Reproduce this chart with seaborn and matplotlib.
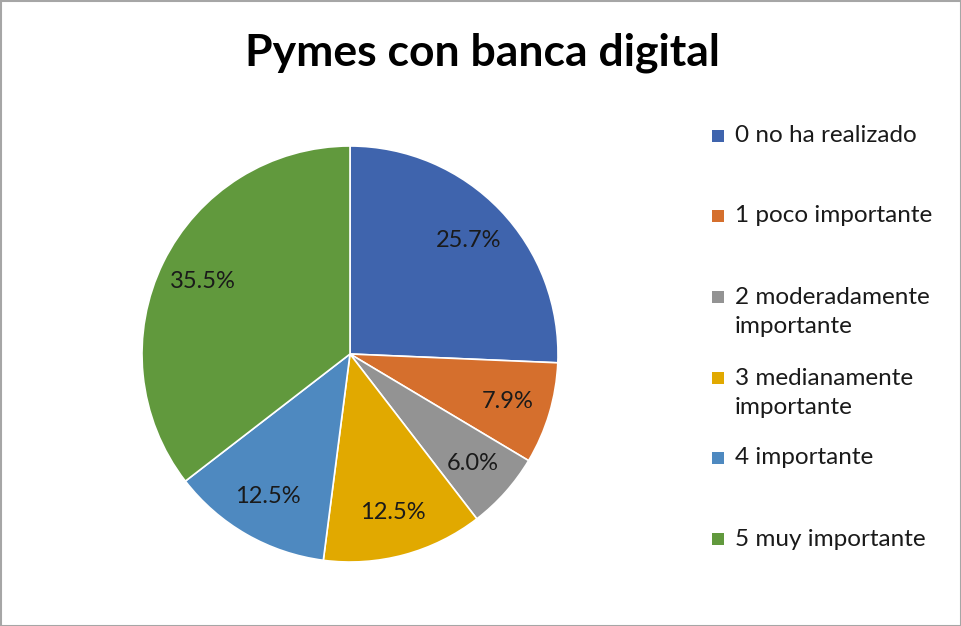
import matplotlib
matplotlib.use("Agg")
import matplotlib.pyplot as plt
from matplotlib.patches import Rectangle
import seaborn as sns

categories = ["0 no ha realizado", "1 poco importante", "2 moderadamente\nimportante",
              "3 medianamente\nimportante", "4 importante", "5 muy importante"]
values = [25.7, 7.9, 6.0, 12.5, 12.5, 35.5]
colors = ["#3F64AD", "#D56F2D", "#939393", "#E1A900", "#4E89C0", "#61993D"]
title = "Pymes con banca digital"

sns.set_theme(style="white")
plt.rcParams['font.family'] = ['Lato', 'DejaVu Sans']

fig = plt.figure(figsize=(9.62, 6.26), dpi=100)
W, H = 962, 626
cx, cy, r = 350, 354, 208
ax = fig.add_axes([(cx - r) / W, (H - cy - r) / H, 2 * r / W, 2 * r / H])
palette = sns.color_palette(colors)
wedges, texts, autotexts = ax.pie(
    values, colors=palette, startangle=90, counterclock=False,
    autopct=lambda p: f"{p:.1f}%", pctdistance=0.79, radius=1,
    wedgeprops=dict(edgecolor="white", linewidth=1.2),
    textprops=dict(fontsize=17, color="#1a1a1a"))
ax.set_xlim(-1, 1)
ax.set_ylim(-1, 1)
ax.set_aspect("equal")
ax.axis("off")

fig.text(482 / W, 1 - 53 / H, title, ha="center", va="center",
         fontsize=32, fontweight="bold", color="black")

# legend
legend_y = [136, 216, 312, 393, 458, 539]
first_line_y = [136, 216, 297, 378, 458, 539]
for lab, col, yc, yf in zip(categories, colors, legend_y, first_line_y):
    fig.patches.append(Rectangle(((712) / W, 1 - (yf + 6) / H), 12 / W, 12 / H,
                                 transform=fig.transFigure, facecolor=col,
                                 edgecolor="none"))
    fig.text(735 / W, 1 - yc / H, lab, ha="left", va="center", fontsize=17.5,
             color="#1a1a1a", linespacing=1.42)

fig.patches.append(Rectangle((0.5 / W, 0.5 / H), (W - 1.5) / W, (H - 1.5) / H,
                             transform=fig.transFigure, facecolor="none",
                             edgecolor="#A6A6A6", linewidth=1.5))
fig.savefig("out.png", dpi=100, facecolor="white")
